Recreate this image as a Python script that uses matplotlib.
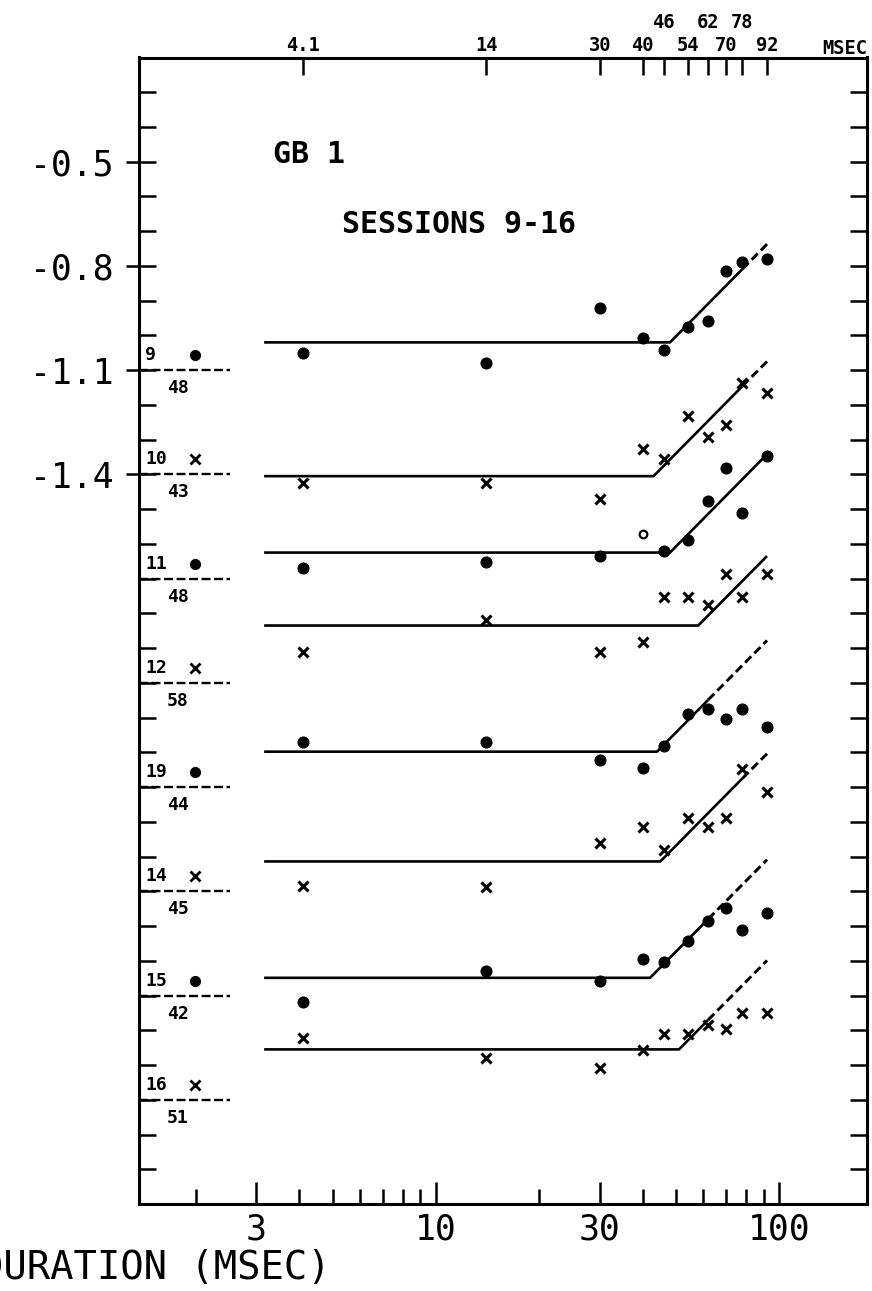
import numpy as np
import matplotlib
matplotlib.use("Agg")
import matplotlib.pyplot as plt
from matplotlib.ticker import FixedLocator, FixedFormatter, NullLocator

plt.rcParams['font.family'] = ['DejaVu Sans Mono', 'DejaVu Sans']

# ---------------- data ----------------
durations = [4.1, 14, 30, 40, 46, 54, 62, 70, 78, 92]
top_row_low = ["4.1", "14", "30", "40", "", "54", "", "70", "", "92"]
top_row_high_x = [46, 62, 78]
top_row_high = ["46", "62", "78"]

sessions = ["9", "10", "11", "12", "19", "14", "15", "16"]
session_markers = ["o", "x", "o", "x", "o", "x", "o", "x"]
reference_levels = [-1.1, -1.4, -1.7, -2.0, -2.3, -2.6, -2.9, -3.2]
critical_ms = ["48", "43", "48", "58", "44", "45", "42", "51"]

s9 = [-1.051, -1.079, -0.922, -1.006, -1.041, -0.977, -0.957, -0.814, -0.788, -0.780]
s10 = [-1.424, -1.424, -1.472, -1.326, -1.357, -1.231, -1.292, -1.259, -1.137, -1.165]
s11 = [-1.668, -1.653, -1.634, -1.572, -1.620, -1.588, -1.476, -1.381, -1.512, -1.347]
s12 = [-1.911, -1.818, -1.910, -1.881, -1.754, -1.754, -1.777, -1.687, -1.754, -1.687]
s19 = [-2.170, -2.170, -2.222, -2.246, -2.182, -2.089, -2.074, -2.103, -2.074, -2.127]
s14 = [-2.586, -2.589, -2.462, -2.414, -2.481, -2.388, -2.414, -2.388, -2.248, -2.315]
s15 = [-2.918, -2.830, -2.857, -2.794, -2.803, -2.744, -2.685, -2.648, -2.710, -2.662]
s16 = [-3.021, -3.080, -3.108, -3.058, -3.010, -3.010, -2.985, -2.997, -2.949, -2.949]
session_values = [s9, s10, s11, s12, s19, s14, s15, s16]
open_points = {2: [3]}   # session 11, 40 ms shown as a small open circle

# fitted two-limb functions: plateau from fit_start to break, rising limb, dashed extension
fit_start = 3.16
fit_break_x = [48, 43, 48, 58, 44, 45, 42, 51]
fit_plateau = [-1.020, -1.405, -1.625, -1.835, -2.198, -2.514, -2.849, -3.055]
fit_solid_end_x = [78, 78, 92, 92, 62, 78, 62, 62]
fit_solid_end_y = [-0.809, -1.146, -1.342, -1.635, -2.049, -2.275, -2.680, -2.970]
fit_dash_end_x = 92
fit_dash_end_y = [-0.737, -1.075, None, None, -1.878, -2.204, -2.509, -2.799]

y_major = [-0.5, -0.8, -1.1, -1.4]
y_major_labels = ["-0.5", "-0.8", "-1.1", "-1.4"]
x_major = [3, 10, 30, 100]
x_major_labels = ["3", "10", "30", "100"]
x_minor = [2, 4, 5, 6, 7, 8, 9, 20, 40, 50, 60, 70, 80, 90]

# ---------------- figure ----------------
W, H = 872, 1291
fig = plt.figure(figsize=(W / 100, H / 100), dpi=100)
L, R, T, B = 139, 867, 57.5, 1204
ax = fig.add_axes([L / W, 1 - B / H, (R - L) / W, (B - T) / H])
ax.set_xscale('log')
ax.set_xlim(1.366, 179.8)
ax.set_ylim(-3.5, -0.2)

for sp in ax.spines.values():
    sp.set_linewidth(2.2)

lw_fit = 1.9
for i in range(len(sessions)):
    xb, lv = fit_break_x[i], fit_plateau[i]
    ax.plot([fit_start, xb, fit_solid_end_x[i]], [lv, lv, fit_solid_end_y[i]],
            color='black', lw=lw_fit, solid_capstyle='butt', zorder=2)
    if fit_dash_end_y[i] is not None:
        ax.plot([fit_solid_end_x[i], fit_dash_end_x], [fit_solid_end_y[i], fit_dash_end_y[i]],
                color='black', lw=lw_fit + 0.2, linestyle=(0, (3.0, 1.5)), zorder=2)

    m = session_markers[i]
    vals = session_values[i]
    opens = open_points.get(i, [])
    xs = [d for k, d in enumerate(durations) if k not in opens]
    ys = [v for k, v in enumerate(vals) if k not in opens]
    if m == 'o':
        ax.plot(xs, ys, linestyle='none', marker='o', ms=7.7, color='black', zorder=3)
    else:
        ax.plot(xs, ys, linestyle='none', marker='x', ms=7, mew=2.2, color='black', zorder=3)
    for k in opens:
        ax.plot([durations[k]], [vals[k]], linestyle='none', marker='o', ms=5.5,
                mfc='white', mec='black', mew=1.6, zorder=3)

    # left-side key: session number, symbol, dashed reference, critical duration
    ref = reference_levels[i]
    ax.plot([1.366, 2.513], [ref, ref], color='black', lw=1.7,
            linestyle=(0, (3.8, 1.5)), zorder=2, clip_on=False)
    ax.text(1.425, ref + 0.043, sessions[i], fontsize=13, fontweight='bold',
            ha='left', va='center')
    if m == 'o':
        ax.plot([1.988], [ref + 0.043], marker='o', ms=7, color='black', linestyle='none')
    else:
        ax.plot([1.988], [ref + 0.043], marker='x', ms=6.5, mew=2.0, color='black', linestyle='none')
    ax.text(1.774, ref - 0.052, critical_ms[i], fontsize=13, fontweight='bold',
            ha='center', va='center')

ax.text(3.355, -0.479, "GB 1", fontsize=21.5, fontweight='bold', ha='left', va='center')
ax.text(5.325, -0.680, "SESSIONS 9-16", fontsize=21.5, fontweight='bold', ha='left', va='center')

# top axis with tested durations (two label rows)
ax2 = ax.twiny()
ax2.set_xscale('log')
ax2.set_xlim(ax.get_xlim())
ax2.xaxis.set_major_locator(FixedLocator(durations))
ax2.xaxis.set_major_formatter(FixedFormatter(top_row_low))
ax2.xaxis.set_minor_locator(NullLocator())
ax2.tick_params(axis='x', which='major', direction='in', length=12.5, width=1.8,
                labelsize=13.5, pad=2)
for lab in ax2.get_xticklabels():
    lab.set_fontweight('bold')
for sp in ax2.spines.values():
    sp.set_visible(False)

ax3 = ax.twiny()
ax3.set_xscale('log')
ax3.set_xlim(ax.get_xlim())
ax3.xaxis.set_major_locator(FixedLocator(top_row_high_x))
ax3.xaxis.set_major_formatter(FixedFormatter(top_row_high))
ax3.xaxis.set_minor_locator(NullLocator())
ax3.tick_params(axis='x', which='major', direction='in', length=0, width=0,
                labelsize=13.5, pad=18)
for lab in ax3.get_xticklabels():
    lab.set_fontweight('bold')
for sp in ax3.spines.values():
    sp.set_visible(False)

ax2.text(1.0, 1.0, "MSEC", transform=ax2.transAxes, ha='right', va='bottom',
         fontsize=13.5, fontweight='bold')

# y axis ticks
ax.yaxis.remove_overlapping_locs = False
ax.yaxis.set_major_locator(FixedLocator(y_major))
ax.yaxis.set_major_formatter(FixedFormatter(y_major_labels))
ax.yaxis.set_minor_locator(FixedLocator(list(np.arange(-34, -2) / 10.0)))
ax.tick_params(axis='y', which='major', direction='out', length=9.5, width=1.8,
               left=True, right=False, labelleft=True, labelsize=25, pad=9)
ax.tick_params(axis='y', which='minor', direction='in', length=12, width=1.8,
               left=True, right=True)

# bottom x axis ticks
ax.xaxis.remove_overlapping_locs = False
ax.xaxis.set_major_locator(FixedLocator(x_major))
ax.xaxis.set_major_formatter(FixedFormatter(x_major_labels))
ax.xaxis.set_minor_locator(FixedLocator(x_minor))
ax.xaxis.set_minor_formatter(FixedFormatter([""] * len(x_minor)))
ax.tick_params(axis='x', which='major', direction='in', length=16, width=1.8,
               top=False, bottom=True, labelsize=25, pad=6)
ax.tick_params(axis='x', which='minor', direction='in', length=11, width=1.8,
               top=False, bottom=True)

ax.set_xlabel("DURATION (MSEC)", fontsize=28)
ax.xaxis.set_label_coords((-20 - L) / (R - L), (B - 1268) / (B - T))
ax.xaxis.label.set_ha('left')
ax.xaxis.label.set_va('center')

fig.savefig("out.png", dpi=100)
